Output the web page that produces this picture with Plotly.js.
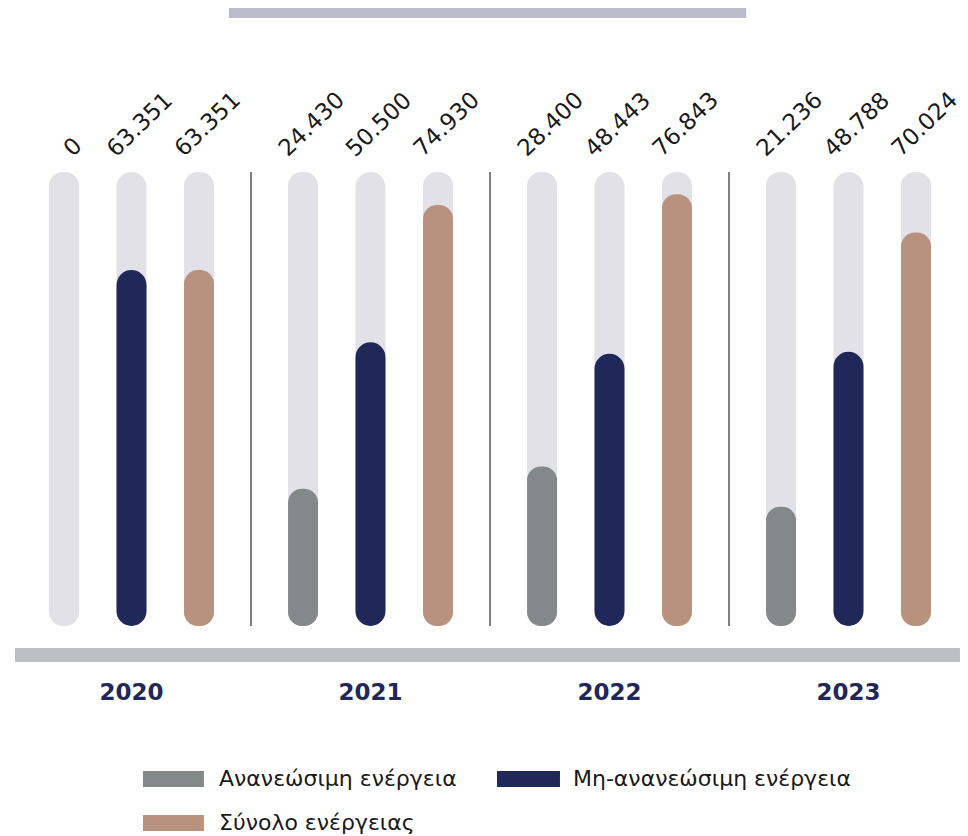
<!DOCTYPE html>
<html>
<head>
<meta charset="utf-8">
<script src="https://cdn.plot.ly/plotly-3.0.1.min.js"></script>
<style>
html,body{margin:0;padding:0;background:#fff;}
#chart{width:968px;height:836px;}
</style>
</head>
<body>
<div id="chart"></div>
<script>
// ---- data ----
const categories = ['2020', '2021', '2022', '2023'];
const seriesNames = ['Ανανεώσιμη ενέργεια', 'Μη-ανανεώσιμη ενέργεια', 'Σύνολο ενέργειας'];
const renewable = [0, 24430, 28400, 21236];
const nonRenewable = [63351, 50500, 48443, 48788];
const totalEnergy = [63351, 74930, 76843, 70024];

// ---- styling ----
const seriesColors = ['#858889', '#1f2858', '#b8917f'];
const trackColor = '#e1e1e7';
const TRACK_MAX = 80800;   // full height of the pale track
const BAR_W = 0.1255;
const OFFSETS = [-0.345, -0.0628, 0.2197];
const RADIUS = 15;
const FONT = 'DejaVu Sans, Open Sans, sans-serif';

const seriesValues = [renewable, nonRenewable, totalEnergy];

function fmt(v) {
  return String(v).replace(/\B(?=(\d{3})+(?!\d))/g, '.');
}

const traces = [];
function addRounded(vals, color, k) {
  traces.push({
    type: 'bar', x: categories, base: categories.map(() => 0),
    y: vals,
    width: BAR_W, offset: OFFSETS[k],
    marker: {color: color, cornerradius: RADIUS, line: {width: 0}},
    showlegend: false, hoverinfo: 'skip'
  });
}
// tracks first
for (let k = 0; k < 3; k++) addRounded(categories.map(() => TRACK_MAX), trackColor, k);
// values
for (let k = 0; k < 3; k++) addRounded(seriesValues[k], seriesColors[k], k);

const annotations = [];
for (let k = 0; k < 3; k++) {
  seriesValues[k].forEach((v, i) => {
    annotations.push({
      x: i + OFFSETS[k] + BAR_W / 2, y: TRACK_MAX, xref: 'x', yref: 'y',
      text: fmt(v), showarrow: false, textangle: -44,
      xanchor: 'center', yanchor: 'bottom', xshift: 8, yshift: 8,
      font: {family: FONT, size: 23, color: '#1a1a1a'}
    });
  });
}

const shapes = [];
// separators between year groups
for (let i = 0; i < categories.length - 1; i++) {
  shapes.push({type: 'line', xref: 'x', yref: 'y', x0: i + 0.5, x1: i + 0.5, y0: 0, y1: TRACK_MAX,
    line: {color: '#000000', width: 1}});
}
// bottom band
shapes.push({type: 'rect', xref: 'paper', yref: 'paper', x0: 0.0031, x1: 0.9916, y0: -0.0793, y1: -0.0485,
  fillcolor: '#bebfc1', line: {width: 0}});
// top decorative bar
shapes.push({type: 'rect', xref: 'paper', yref: 'paper', x0: 0.227, x1: 0.768, y0: 1.339, y1: 1.361,
  fillcolor: '#bcbbcb', line: {width: 0}});

// custom legend
const legendPos = [
  {sx0: 0.137, sx1: 0.2008, tx: 0.2144, yc: -0.337},
  {sx0: 0.5073, sx1: 0.5732, tx: 0.5847, yc: -0.337},
  {sx0: 0.137, sx1: 0.2008, tx: 0.2144, yc: -0.4339}
];
const swH = 0.0176;
seriesNames.forEach((name, k) => {
  const p = legendPos[k];
  shapes.push({type: 'rect', xref: 'paper', yref: 'paper', x0: p.sx0, x1: p.sx1,
    y0: p.yc - swH, y1: p.yc + swH, fillcolor: seriesColors[k], line: {width: 0}});
  annotations.push({xref: 'paper', yref: 'paper', x: p.tx, y: p.yc, text: name,
    showarrow: false, xanchor: 'left', yanchor: 'middle',
    font: {family: FONT, size: 22, color: '#1a1a1a'}});
});

const layout = {
  width: 968, height: 836,
  margin: {l: 12, r: 0, t: 172, b: 210},
  paper_bgcolor: '#ffffff', plot_bgcolor: '#ffffff',
  barmode: 'overlay',
  showlegend: false,
  xaxis: {
    type: 'category', range: [-0.5, 3.5], showgrid: false, zeroline: false,
    showline: false, ticks: '', ticklabelstandoff: 50,
    tickfont: {family: FONT, size: 23, color: '#1f2858', weight: 'bold'}
  },
  yaxis: {
    range: [0, TRACK_MAX], showgrid: false, zeroline: false, showline: false,
    showticklabels: false, ticks: ''
  },
  shapes: shapes,
  annotations: annotations
};

Plotly.newPlot('chart', traces, layout, {displayModeBar: false, staticPlot: true});
</script>
</body>
</html>
